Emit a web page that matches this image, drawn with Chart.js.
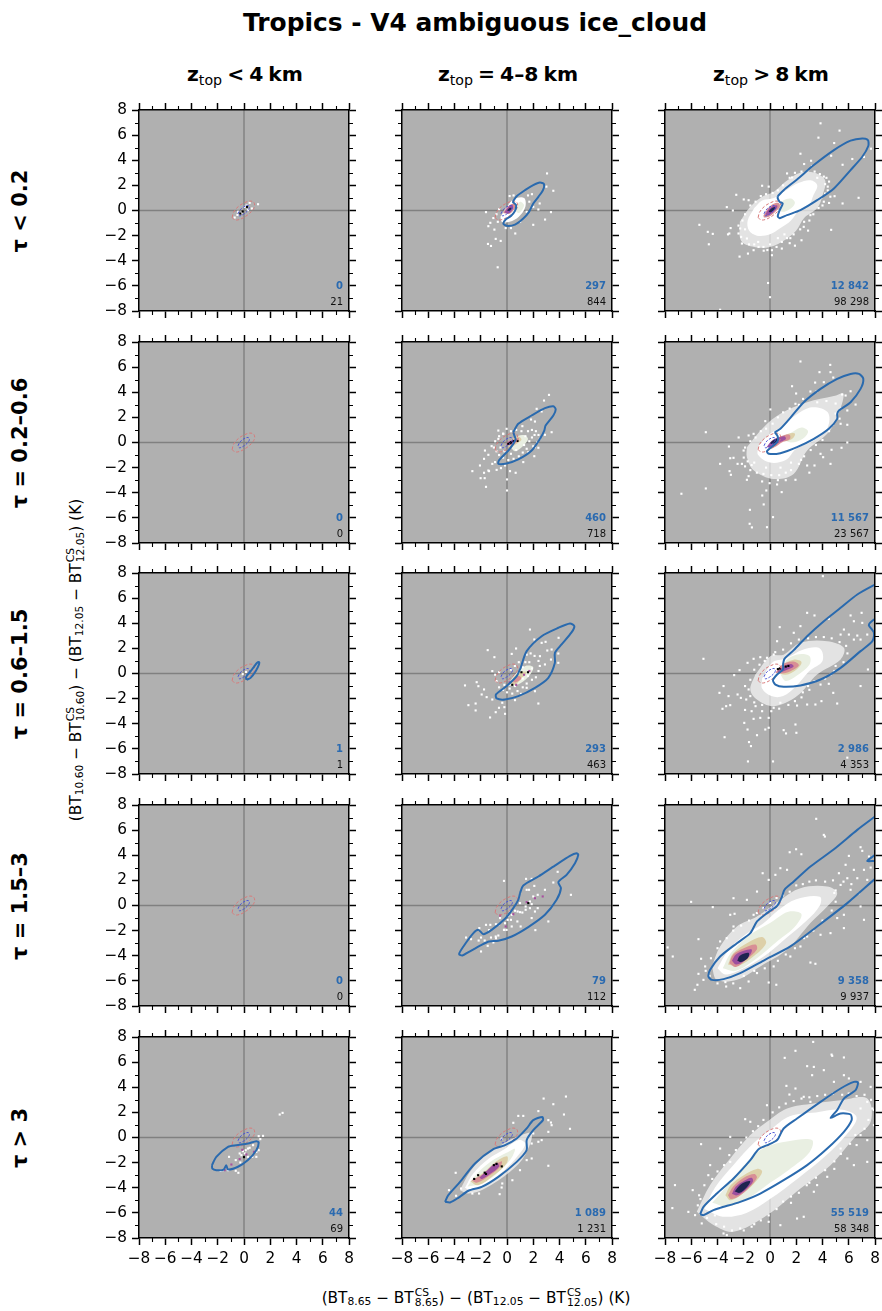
<!DOCTYPE html>
<html>
<head>
<meta charset="utf-8">
<script src="https://cdn.jsdelivr.net/npm/chart.js@4"></script>
<style>
	body { margin: 0; background: #fff; font-family: "DejaVu Sans", sans-serif; color: #000; }
	#fig { position: relative; width: 882px; height: 1311px; overflow: hidden; }
	canvas { position: absolute; }
	.lbl { position: absolute; white-space: nowrap; line-height: 1; }
	.mid { transform: translate(-50%, -50%); }
	.rot { transform: translate(-50%, -50%) rotate(-90deg); }
	.n { font-size: 10px; transform: translateX(-100%); }
	sub.t { font-size: 70%; font-weight: normal; vertical-align: -0.28em; line-height: 0; }
	.ss { display: inline-flex; flex-direction: column; vertical-align: middle; font-size: 70%; line-height: 0.98; text-align: left; margin-left: 1px; }
	.s7 { font-size: 70%; vertical-align: -0.28em; line-height: 0; }
</style>
</head>
<body>
<div id="fig"></div>
<script>
const figTitle = "Tropics - V4 ambiguous ice_cloud";
const colTitles = ["z<sub class='t'>top</sub> &lt; 4 km", "z<sub class='t'>top</sub> = 4–8 km", "z<sub class='t'>top</sub> &gt; 8 km"];
const rowTitles = ["τ < 0.2", "τ = 0.2–0.6", "τ = 0.6–1.5", "τ = 1.5–3", "τ > 3"];
const shownCounts = [["0", "297", "12 842"], ["0", "460", "11 567"], ["1", "293", "2 986"], ["0", "79", "9 358"], ["44", "1 089", "55 519"]];
const totalCounts = [["21", "844", "98 298"], ["0", "718", "23 567"], ["1", "463", "4 353"], ["0", "112", "9 937"], ["69", "1 231", "58 348"]];

const majorTicks = [-8, -6, -4, -2, 0, 2, 4, 6, 8];
const minorTicks = [-7, -5, -3, -1, 1, 3, 5, 7];
const zeroLineH = [[-8, 0], [8, 0]];
const zeroLineV = [[0, -8], [0, 8]];

// clear sky reference contours, same in every panel
const refOuter = [[-.9, -.55], [-.8, -.15], [-.45, .3], [0, .6], [.45, .75], [.75, .65], [.8, .3], [.55, -.1], [.15, -.45], [-.3, -.7], [-.7, -.75]];
const refInner = [[-.45, -.25], [-.3, .05], [0, .3], [.3, .4], [.42, .25], [.25, -.05], [-.05, -.3], [-.35, -.42]];

// blue contours
const blueR1C2 = [[.43, .69], [.74, 1.14], [1.37, 1.62], [2, 2.02], [2.51, 2.23], [2.82, 2.1], [2.74, 1.62], [2.39, 1.09], [2, .56], [1.68, -.11], [1.24, -.64], [.61, -1.12], [-.03, -1.22], [-.28, -1.04], [-.1, -.72], [.3, -.43], [.61, -.03], [.69, .43]];
const blueR1C3 = [[.59, 1.14], [1.04, 1.62], [2.06, 2.47], [3.34, 3.62], [4.87, 4.81], [6.14, 5.56], [7.03, 5.74], [7.46, 5.61], [7.49, 5.13], [7.03, 4.28], [6.14, 3.22], [4.87, 1.76], [3.59, .82], [2.32, .03], [1.3, -.37], [.74, -.61], [.59, -.45], [.74, .03], [.97, .56], [.74, .69], [.59, .96]];
const blueR2C2 = [[.48, .82], [.86, 1.49], [1.88, 2.15], [2.89, 2.73], [3.53, 2.89], [3.71, 2.63], [3.53, 2.15], [2.94, 1.35], [2.84, .95], [2.51, .29], [1.88, -.64], [.86, -1.35], [-.03, -1.67], [-.66, -1.7], [-.61, -1.43], [.1, -.64], [.48, -.11], [.66, .24], [.56, .56]];
const blueR2C3 = [[.36, .82], [.79, 1.09], [1.55, 1.96], [2.57, 3.21], [3.85, 4.27], [5.12, 5.07], [6.14, 5.46], [6.78, 5.46], [7.11, 5.07], [6.9, 4.27], [6.14, 3.21], [5.25, 2.55], [5.12, 2.28], [5.12, 1.88], [4.48, 1.09], [3.34, .29], [2.06, -.37], [.79, -.85], [-.1, -.9], [-.23, -.69], [.54, .03], [.59, .48]];
const blueR3C1 = [[.2, -.5], [.5, -.35], [.9, .2], [1.15, .75], [1.15, .9], [1, .85], [.7, .45], [.4, .05], [.15, -.3]];
const blueR3C2 = [[1.04, .45], [1.5, 1.78], [2.64, 2.97], [3.91, 3.64], [4.8, 3.98], [5.13, 3.77], [4.93, 3.29], [4.16, 2.31], [3.65, 1.64], [3.65, .85], [3.15, -.34], [2.13, -1.14], [.86, -1.8], [-.15, -2.07], [-.79, -1.99], [-.84, -1.67], [-.03, -1], [.74, -.21]];
const blueR3C3 = [[.99, .72], [1.1, 1.17], [1.81, 1.86], [2.83, 2.97], [4.1, 4.16], [5.38, 5.23], [6.65, 6.29], [8, 7.08], [9, 7.6], [9.2, 5], [8, 4.35], [7.62, 4.03], [7.54, 3.82], [7.92, 3.24], [7.8, 2.57], [6.9, 1.78], [5.38, .45], [3.85, -.48], [2.32, -.95], [1.04, -1.06], [.41, -.88], [.23, -.53], [.54, -.08], [.99, .32]];
const blueR4C2 = [[.99, .98], [1.24, 1.59], [2.39, 2.31], [3.65, 3.18], [4.8, 3.95], [5.3, 4.16], [5.43, 4.03], [5.18, 3.37], [4.54, 2.44], [3.91, 1.86], [4.11, 1.38], [3.78, .45], [2.89, -.74], [1.62, -1.72], [.36, -2.47], [-.66, -2.81], [-1.37, -2.86], [-1.93, -3.13], [-2.94, -3.71], [-3.4, -3.98], [-3.65, -3.87], [-3.32, -3.26], [-2.56, -2.2], [-2.18, -1.94], [-1.8, -2.28], [-1.17, -1.94], [-.15, -1.06], [.48, -.21], [.86, .45]];
const blueR4C3 = [[8, 7.08], [6.65, 6.02], [4.87, 4.48], [3.08, 3.1], [1.81, 1.91], [1.1, 1.25], [.92, .72], [.54, -.03], [-.23, -.61], [-.99, -1.27], [-1.5, -2.2], [-2.52, -3], [-3.8, -4.06], [-4.56, -5.12], [-4.69, -5.65], [-4.43, -5.92], [-3.54, -5.86], [-2.27, -5.38], [-.48, -4.38], [1.55, -3.26], [3.59, -1.67], [5.89, .19], [8, 2.12], [9, 3], [9, 3.5], [8, 3.55], [7.41, 3.55], [8, 4.03], [9, 5], [9, 7.7]];
const blueR5C1 = [[-2.44, -2.2], [-2.11, -1.54], [-1.22, -.74], [-.58, -.61], [.3, -.48], [.94, -.29], [1.12, -.4], [.94, -1.01], [.3, -1.8], [-.46, -2.33], [-1.22, -2.55], [-1.35, -2.2], [-1.55, -2.55], [-2.11, -2.6], [-2.41, -2.47]];
const blueR5C2 = [[-4.72, -5.12], [-4.47, -4.59], [-3.58, -3.53], [-2.44, -2.07], [-1.04, -.93], [-.15, -.61], [.74, -.08], [1.5, .72], [2, 1.38], [2.69, 1.64], [2.74, 1.38], [2, .58], [1.5, -.21], [1.5, -1.01], [.74, -1.94], [-.66, -3.13], [-1.93, -3.93], [-2.94, -4.24], [-3.71, -4.8], [-4.34, -5.17]];
const blueR5C3 = [[-5.32, -6.1], [-5.07, -5.52], [-4.05, -4.46], [-2.78, -3.26], [-1.5, -1.8], [-.87, -.93], [-.1, -.56], [.54, -.21], [1.04, .72], [2.06, 1.51], [3.85, 2.84], [5.38, 3.9], [6.39, 4.43], [6.7, 4.38], [6.52, 3.77], [5.63, 3.1], [5.12, 2.18], [4.61, 1.56], [5.38, 1.91], [6.14, 1.83], [6.22, 1.38], [5.63, .45], [4.36, -.88], [2.83, -2.2], [1.04, -3.4], [-.74, -4.46], [-2.27, -5.12], [-3.8, -5.6], [-4.31, -5.78], [-5.07, -6.18]];

// density levels: fringe, white, green, tan, pink, purple, dark
const densR1C2 = [
	null,
	[[-.5, -.5], [0, .3], [.5, .9], [1.3, 1], [1.4, .3], [.9, -.5], [.2, -.9], [-.4, -.9]],
	[[.5, .2], [1, .7], [1.3, .4], [.9, -.2]],
	null,
	[[-.3, -.2], [.1, .35], [.55, .55], [.6, .2], [.2, -.25]],
	[[-.2, -.15], [.05, .2], [.4, .45], [.45, .15], [.15, -.2]],
	[[0, 0], [.2, .2], [.35, .2], [.2, -.02]],
];
const densR1C3 = [
	[[-2.3, -.9], [-1.5, .3], [-.6, 1.1], [.3, 1.5], [1.2, 2.3], [2.3, 3], [3.4, 3], [4.2, 2.4], [4, 1.2], [3.6, .2], [2.6, -.6], [2, -1.6], [1.2, -2.3], [0, -2.9], [-1.2, -2.9], [-2.2, -2.4]],
	[[-1.2, .2], [-.6, .8], [.3, 1], [1.2, 1.6], [2.2, 2.2], [3.1, 2.4], [3.6, 2], [3.3, 1.2], [3, .5], [2.2, 0], [1.6, -.8], [.8, -1.4], [0, -1.9], [-1, -2], [-1.6, -1.6], [-1.7, -.8]],
	[[.5, .3], [1, .8], [1.6, .95], [1.9, .6], [1.5, .1], [.9, -.1]],
	null,
	[[-.5, -.4], [-.2, .1], [.2, .5], [.65, .6], [.75, .3], [.35, -.15], [-.1, -.5], [-.45, -.55]],
	[[-.35, -.3], [-.1, .1], [.25, .38], [.55, .4], [.5, .15], [.15, -.2], [-.2, -.4]],
	[[-.1, -.08], [.1, .15], [.35, .28], [.42, .15], [.2, -.05], [0, -.15]],
];
const densR2C2 = [
	null,
	null,
	[[.3, -.4], [.5, .3], [1.2, .6], [1.6, .3], [1.2, -.3], [.6, -.7]],
	[[.1, -.3], [.3, .2], [.9, .45], [1.1, .2], [.6, -.2], [.2, -.5]],
	[[-.1, -.2], [.1, .1], [.4, .2], [.9, .35], [.8, .05], [.3, -.2]],
	[[-.05, -.15], [.2, .1], [.7, .2], [.5, 0], [.1, -.2]],
	null,
];
const densR2C3 = [
	[[-1.76, -.37], [-.48, 1.22], [.79, 2.28], [2.83, 3.2], [4.87, 3.7], [5.6, 3.87], [5.1, 2], [4.36, .69], [2.83, -.64], [1.8, -2.5], [.28, -2.9], [-1.25, -2.2], [-1.76, -1.17]],
	[[-.9, -.3], [0, .7], [.8, 1.2], [2, 2.2], [3.2, 2.8], [4.4, 2.4], [4.4, 1.2], [3.4, .2], [2, -.5], [1.2, -1.4], [0, -1.6], [-.9, -1]],
	[[.9, .3], [1.8, .9], [2.4, 1.2], [2.9, .9], [2.5, .3], [1.6, 0]],
	[[.8, .35], [1.4, .7], [1.9, .7], [1.7, .3], [1.1, .1]],
	[[-.1, -.3], [.4, .25], [1, .55], [1.5, .6], [1.5, .25], [.9, 0], [.3, -.4]],
	[[-.25, -.35], [.1, .1], [.5, .35], [1.1, .5], [1.2, .25], [.6, -.05], [.1, -.4]],
	[[0, -.05], [.25, .18], [.6, .32], [.55, .1], [.2, -.12]],
];
const densR3C2 = [
	null,
	null,
	[[0, -1], [.6, -.1], [1.4, .6], [2, .5], [1.6, -.3], [.8, -.9]],
	[[.3, -.8], [.5, -.3], [1, .1], [1.5, .1], [1, -.5], [.6, -.9]],
	[[.45, -.7], [.6, -.35], [.9, -.2], [1.1, -.4], [.7, -.7]],
	null,
	null,
];
const densR3C3 = [
	[[-1.12, -.08], [.03, 1.38], [1.04, 1.5], [2.32, 2.44], [4.36, 2.57], [5.63, 2.04], [5.38, 1.12], [3.59, -.08], [2.06, -1.8], [.28, -2.6], [-1, -2.07], [-1.5, -1.27]],
	[[-.6, -.4], [.2, .9], [1.2, 1.2], [2.5, 1.9], [3.8, 2], [4, 1], [3, .2], [2, -1], [1, -1.8], [.1, -1.8], [-.6, -1.2]],
	[[.8, -.1], [1.2, 1], [2, 1.5], [3, 1.4], [3, .7], [2, -.2], [1.2, -.6]],
	[[.5, .1], [1, .7], [1.8, 1.1], [2.4, .9], [2, .3], [1.2, -.1]],
	[[.4, .05], [1, .75], [1.8, .95], [2.2, .65], [1.6, .2], [.9, 0]],
	[[.55, .15], [1.1, .6], [1.6, .75], [1.8, .55], [1.3, .3], [.8, .1]],
	null,
];
const densR4C3 = [
	[[-4.43, -4.85], [-3.8, -3.26], [-2.52, -1.67], [-.99, -.88], [.79, .45], [2.32, 1.38], [4.36, 1.51], [5.12, .98], [4.36, -.08], [3.08, -1.4], [1.29, -3.53], [-.74, -4.85], [-2.52, -5.92], [-4.05, -5.92]],
	[[-4, -5], [-3.2, -3.6], [-2, -2.4], [-.6, -1.5], [.6, -.4], [2, .5], [3.8, .7], [3.8, 0], [2.8, -1.2], [1, -2.8], [-.4, -4], [-2, -5], [-3.4, -5.5]],
	[[-3.6, -5], [-3, -3.8], [-1.6, -2.4], [0, -1.4], [1.4, -.5], [2.4, -.7], [1.8, -1.8], [.6, -2.8], [-1, -4.2], [-2.6, -5.2]],
	[[-3.2, -4.7], [-2.8, -3.8], [-1.6, -2.9], [-.6, -2.5], [-.3, -3], [-1.2, -4], [-2.4, -4.8]],
	[[-3.1, -4.6], [-2.8, -3.9], [-2, -3.4], [-1.1, -3.1], [-1, -3.5], [-1.8, -4.3], [-2.6, -4.9]],
	[[-2.9, -4.4], [-2.6, -3.9], [-2, -3.6], [-1.4, -3.5], [-1.5, -3.9], [-2.1, -4.5], [-2.6, -4.7]],
	[[-2.5, -4.4], [-2.3, -4], [-1.9, -3.8], [-1.6, -3.8], [-1.7, -4.2], [-2.2, -4.5]],
];
const densR5C2 = [
	[[-3.58, -4.19], [-2.82, -2.73], [-1.68, -1.41], [-.66, -.74], [.74, .05], [1.88, .32], [1.37, -1.41], [.23, -2.73], [-1.68, -4.06], [-2.94, -4.46]],
	[[-3.2, -4], [-2.6, -2.9], [-1.4, -1.7], [-.3, -1], [.9, -.2], [1.4, -.5], [.8, -1.5], [-.2, -2.6], [-1.6, -3.7], [-2.8, -4.2]],
	[[-3, -3.9], [-2.4, -3], [-1.2, -1.9], [0, -1.2], [.6, -.9], [.3, -1.7], [-.8, -2.9], [-2, -3.7]],
	[[-2.8, -3.5], [-1.8, -2.8], [-.8, -1.9], [0, -1.5], [0, -2], [-1, -3], [-2.2, -3.8]],
	[[-2.7, -3.4], [-1.8, -2.9], [-.9, -2.2], [-.4, -1.9], [-.5, -2.3], [-1.3, -3], [-2.3, -3.6]],
	[[-2.1, -3.2], [-1.5, -2.6], [-.8, -2], [-.6, -2.3], [-1.3, -2.9], [-1.9, -3.3]],
	null,
];
const densR5C3 = [
	[[-5.58, -5.92], [-4.56, -3.79], [-3.03, -1.67], [-1.5, .19], [-.23, 1.25], [1.3, 2.31], [3.34, 2.71], [5.38, 2.97], [7.41, 3.1], [7.67, 1.25], [6.39, -.08], [4.61, -2.2], [2.32, -4.05], [-.23, -6.18], [-2.78, -7.5], [-4.31, -6.97]],
	[[-5, -5.7], [-4.2, -4], [-2.8, -2.2], [-1.2, -.4], [0, .6], [1.5, 1.7], [3.5, 2], [5.5, 2.2], [6.6, 1.6], [5.8, .2], [4.2, -1.5], [2.2, -3.2], [0, -4.9], [-1.8, -6], [-3.6, -6.3]],
	[[-4.4, -5.2], [-3, -3.5], [-1.8, -2], [-.4, -.8], [1.4, -.3], [3.2, -.2], [3, -1.2], [1.4, -2.6], [0, -3.6], [-1.6, -4.8], [-3.2, -5.5]],
	[[-3.4, -4.6], [-3, -3.8], [-2, -3], [-1, -2.5], [-.6, -2.7], [-1, -3.4], [-2, -4.4], [-3, -5]],
	[[-3.2, -4.6], [-2.8, -3.9], [-2, -3.2], [-1.2, -2.9], [-1, -3.2], [-1.6, -4], [-2.4, -4.7], [-3, -4.9]],
	[[-2.9, -4.5], [-2.6, -3.9], [-1.9, -3.4], [-1.4, -3.2], [-1.3, -3.5], [-1.9, -4.2], [-2.5, -4.6]],
	[[-2.7, -4.3], [-2.3, -3.8], [-1.8, -3.5], [-1.5, -3.5], [-1.8, -4], [-2.3, -4.4]],
];

// sparse bins
const dotsR1C1 = [[-.71, -.56], [1.07, .5], [.43, .61], [.6, .16], [-.46, -.1], [.05, .29], [-.2, -.19], [.3, .03], [.2, .4], [-.5, -.35]];
const dotsR1C2 = [[3.05, 2.95], [3, 1.9], [3.53, 1.57], [3.35, -.13], [2.9, -.72], [2, -1.14], [.63, -1.83], [-.48, -2.42], [-.86, -2.26], [-1.45, -2.66], [-1.22, -2.82], [-.71, -4.52], [-1.6, -.13], [2.49, .56], [2.39, .08], [2, .29], [-1.42, -1.25], [-1.27, -.98], [-.96, -1.52], [-1.04, -.6], [-.1, -1.4], [.3, -1.4], [.2, 1.15], [.5, 1.2], [-.8, -.3], [-.7, -.9], [-.6, .1], [1.6, 1.2], [1.9, 1.3], [1.7, .7], [1.5, -.1], [1, -.9]];
const dotsR1C3 = [[3.85, 6.94], [5.3, 6.36], [3.69, 5.8], [4.89, 5.37], [7.69, 4.92], [7.16, 4.26], [6.27, 4.1], [4.66, 4.36], [5.53, 3.64], [2.32, 4.52], [2.6, 3.7], [3.13, 3.96], [3.2, 3.54], [6.75, 1.01], [5.53, .56], [4.92, 1.14], [4.66, -1.54], [-3.8, -7.9], [-.15, -5.77], [0, -6.9], [-5.38, -1.14], [-4.74, -1.7], [-4.36, -1.86], [-4.66, -2.69], [-2.57, 1.25], [-3.29, .27], [-2.83, 0], [-2.32, -3.67], [-1.68, -3.43], [-3.2, -1.9], [-3.1, -1.83], [-3, -1.4], [-2, .88], [-1.63, .82], [-.6, 1.97], [-.1, 1.9], [.15, -3.56], [.15, -3.16], [-.48, -3.2], [-.2, -3.15], [.9, -3.03], [1.3, -2.2], [1.55, -2.2], [2.4, -2.37], [2.57, -1.3], [3.08, -.37], [4, .4], [4.2, 1.35], [4.1, 2.7], [3.6, 2.6], [1.3, 2.95], [1.68, 2.63], [-2.27, -1.43], [-2.4, -1.83], [-2.14, -2.63], [-1.76, -2.23], [-1.25, -3.16], [-.87, -2.9], [4.4, 1.9], [3.9, 1], [4.5, .6], [2.9, -1.6], [1.9, -2.8],
	[1.5, 2.6], [1.9, 3], [2.4, 3.1], [2.9, 3.2], [3.4, 3.1], [3.8, 2.9], [4.3, 2.6], [4.5, 2.3], [4.2, 2.1], [4.4, 1.6], [4.6, 1.1], [4.1, .7], [3.7, .2], [3.3, -.3], [3, -.8], [2.6, -.9], [2.3, -1.5], [1.8, -1.9], [1.5, -2.6], [.9, -2.5], [.5, -2.9], [0, -2.7], [-.5, -2.9], [-1.2, -2.7], [-1.6, -2.7], [-2.2, -2.1], [-2.4, -1.2], [-2.1, -.8], [-1.9, -.3], [-1.5, .4], [-1.1, .7], [-.7, 1.15], [-.3, 1.3], [.2, 1.4], [.6, 1.6], [1, 2], [-1.9, -1.5], [-.9, -2.5], [1.1, -1.9], [.6, -2.2]];
const dotsR2C2 = [[3.2, 3.79], [2.82, 3.34], [2.26, 2.68], [3.4, .82], [2.89, .61], [2.39, -.42], [2.13, -.37], [2.08, -1.09], [1.62, -.77], [1.24, -1.56], [.66, -2.41], [.23, -2.28], [0, -2.94], [0, -3.82], [-1.6, -3.53], [-1.7, -2.84], [-2.01, -2.84], [-2.64, -2.28], [-1.75, -2.41], [-2.06, -1.83], [-1.42, -2.23], [-1.37, -2.28], [-.79, -2.18], [-.46, -2.04], [-.15, -1.83], [-1.68, -.64], [-1.75, -1.3], [-1.42, -.98], [-1.17, -.29], [-.66, .95], [-.28, .69], [-.03, 1.09], [-.66, .29], [1.17, 1.3], [1.83, 1.83], [2.13, 1.67], [2.64, 2.47], [-.91, -1.56], [-1.12, -1.7],
	[1.6, .9], [1.9, 1], [2.2, .9], [2.4, .6], [2.5, .3], [2.3, 0], [2, -.3], [1.5, -.5], [1.2, -.8], [.9, -1.1], [.5, -1.3], [.1, -1.4], [-.3, -1.2], [-.6, -1], [-.8, -.7], [-1, -.4], [-.9, .1], [-.6, .5], [-.3, .7], [.3, .9], [.7, 1], [1.1, .9], [1.4, .5], [1.9, .4], [1.7, .1], [1.3, -.2], [.7, -.6], [.3, -.9], [-.2, -.7], [-.5, -.4], [2.1, .6]];
const dotsR2C3 = [[2.32, 6.45], [4.59, 6.18], [3.77, 5.6], [4.61, 5.6], [4.82, 5.17], [3.44, 4.77], [4.1, 4.8], [1.68, 4.48], [1.99, 3.9], [3.08, 4.06], [3.54, 4.06], [1.94, 3.08], [2.52, 3.47], [5.5, 3.82], [5.76, 3.74], [6.14, 4.08], [6.52, 3.02], [5.89, 2.55], [5.38, 1.49], [5.89, 1.41], [5.89, 0], [5.45, -.42], [4.69, -.58], [3.85, -.9], [4.05, -1.17], [4.61, -1.7], [3.39, -1.83], [2.83, -1.83], [2.37, -1.38], [1.94, -2.97], [.89, -3.95], [.54, -3.34], [.23, -5.94], [-.23, -6.74], [-1.38, -6.76], [-1.55, -6.47], [-1.53, -5.36], [-.48, -4.93], [-.59, -4.22], [-.28, -3.82], [-.03, -3.24], [-6.75, -4.08], [-4.89, -3.66], [-4.89, .82], [-3.13, -.32], [-2.39, .4], [-3.8, -1.7], [-3.03, -1.25], [-2.78, -1.22], [-2.47, -1.7], [-2.14, -1.7], [-3.08, -2.28], [-2.98, -2.57], [-1.76, -2.97], [-1.63, -2.68], [-2.01, -.64], [-1.63, .56], [-1.25, .69], [-.36, 1.7], [.03, 2.63], [-1.9, -1.9], [-1.5, -2.2], [-.6, -3.1], [.6, -3], [1.2, -3], [3, -2.4],
	[3.6, 3.2], [4.3, 3.3], [5, 3.1], [5.4, 2.7], [5, 2.3], [5.3, 1.9], [4.8, 1.4], [4.5, .9], [4, .2], [3.5, -.2], [3.1, -.6], [2.6, -1.1], [2.2, -1.7], [1.6, -2.2], [1.2, -2.4], [.7, -2.6], [.1, -2.6], [-.5, -2.5], [-1, -2.4], [-1.4, -1.8], [-1.7, -1.5], [-2, -1.2], [-1.9, -.4], [-1.5, .1], [-1.1, .4], [-.7, .9], [-.3, 1.1], [.2, 1.5], [.6, 2], [1, 2.4], [1.5, 2.7], [2.2, 3], [-1.2, -1.6], [-.3, -2], [.8, -2], [1.6, -1.6]];
const dotsR3C1 = [[.15, .12], [-.1, -.05]];
const dotsR3C2 = [[1.75, 3.5], [2.08, 2.71], [2.94, 2.52], [3.93, 2.84], [3.4, 1.91], [3.07, 1.83], [2.64, 2.44], [2.51, 1.38], [3.91, 1.59], [3.91, .85], [3.35, 1.11], [2.89, .72], [.69, 1.99], [.36, 1.56], [-.96, 1.3], [-1.47, 1.86], [-1.12, .19], [-3.2, -.95], [-2.31, -.69], [-2.18, -1.01], [-1.75, -1.27], [-1.93, -1.67], [-1.55, -1.88], [-1.12, -2.07], [-2.94, -2.52], [-2.39, -2.39], [-2.39, -2.94], [-1.29, -3.5], [-.86, -3.08], [-.61, -2.73], [-.2, -2.68], [-.15, -3.21], [-.36, -2.33], [.61, -2.12], [2.39, -2.39], [2.13, -1.41], [1.5, -1.14], [1.07, -1.62],
	[1.5, 1.5], [1.8, 1.6], [2.1, 1.4], [2.4, 1], [2.5, .6], [2.4, .2], [2.2, -.3], [1.9, -.5], [1.5, -.8], [1.2, -1.1], [.8, -1.4], [.4, -1.6], [0, -1.5], [-.3, -1.3], [-.6, -1.1], [-.8, -.6], [-.9, -.1], [-.6, .1], [1.4, .9], [1.7, .9], [1.9, .4], [1.6, -.2], [1.2, -.4], [.6, -1], [.2, -1.2], [-.2, -.9], [.3, .3], [.6, .6], [.9, .9], [1.2, .5]];
const dotsR3C3 = [[4.03, 7.75], [2.83, 4.83], [3.39, 4.62], [4.48, 4.35], [6.14, 4.62], [6.98, 4.83], [6.39, 4.16], [7.03, 4.03], [5.63, 3.5], [6.01, 3.1], [6.65, 3.02], [7.41, 3.1], [6.39, 2.7], [6.9, 2.7], [5.38, 3.1], [2.32, 3.77], [.74, 3.69], [1.81, 3.24], [.54, 2.57], [-5.07, 1.17], [-2.73, -.13], [-2.32, .27], [-1.71, .85], [-1.25, 1.17], [-.74, 1.3], [-.23, 1.25], [.28, 1.51], [-3.54, -1], [-3.85, -1.54], [-3.16, -1.8], [-2.47, -1.67], [-3.62, -2.81], [-3.34, -2.6], [-3.03, -2.52], [-2.22, -1.94], [-1.81, -2.07], [-1.63, -1.27], [-1.96, -3.93], [-1.71, -4.46], [-3.46, -5.07], [-1.6, -5.46], [-1.45, -5.78], [-1.68, -7], [.23, -7], [-.99, -4.91], [-.36, -4.46], [-.1, -4.32], [-.74, -3.53], [-1.25, -3.61], [-.1, -3.53], [1.04, -4.51], [2.01, -4.72], [1.22, -4.77], [1.94, -4.06], [.28, -2.73], [.79, -2.33], [2.06, -2.55], [2.83, -2.47], [3.46, -2.47], [3.92, -2.2], [5.12, -2.39], [4.82, -1.54], [3.85, -.88], [4.48, -.82], [6.9, -1], [7.46, .32], [5.89, -6.7], [-1.9, -2.9], [-1.4, -3], [-1.1, -2.6], [-.6, -3], [2.4, -1.9], [3, -1.3], [4.6, -.1], [5, .6],
	[2.9, 2.8], [3.5, 2.9], [4.1, 2.9], [4.7, 2.8], [5.3, 2.5], [5.8, 2.2], [5.9, 1.6], [5.6, .9], [4.9, .2], [4.2, -.4], [3.4, -.6], [2.9, -1], [2.5, -1.5], [1.9, -2.2], [1.4, -2.5], [.7, -2.8], [.1, -3], [-.6, -2.5], [-1.2, -2.3], [-1.5, -1.8], [-1.9, -1], [-1.5, -.5], [-1.2, .3], [-.8, .7], [-.4, 1], [.4, 1.7], [1, 1.9], [1.6, 2.4], [2.2, 2.7]];
const dotsR4C2 = [[-.23, 1.96], [1.45, 2.12], [1.88, 2.12], [3.86, 2.68], [3.53, 1.83], [4.87, .85], [2.89, 1.25], [2.08, 1.56], [1.5, 1.25], [1.68, 1.25], [2.34, .85], [2, .72], [1.75, .32], [1.88, .11], [1.42, -.08], [1.42, -.34], [1.75, -.21], [2.13, -.48], [2.34, -.21], [3.15, -1.27], [1.88, -1], [2.16, -1.96], [1.04, -1.67], [.79, -1.27], [.36, -1.67], [-.03, -1.94], [-.23, -1.94], [-.84, -1.49], [-1.27, -1.54], [-1.6, -1.54], [-2.11, -1.8], [-1.37, -1.96], [-3.12, -2.55], [-2.74, -2.68], [-1.98, -2.55], [-2.16, -2.79], [-1.7, -2.79], [-1.22, -2.55], [-.86, -2.47], [-.66, -2.39], [-.84, -2.6], [-1.47, -3.21], [-1.98, -3.66], [-1.04, -2.94], [-.53, -1], [-.66, -1.54], [-.15, -1.41], [.05, -1.14], [.3, -1.14], [.1, -.8], [.36, -.74], [.23, -.48], [.61, -.42], [.81, -.48], [.99, -.53], [1.17, -.56], [.99, .19], [-.2, -1.94]];
const dotsR4C3 = [[3.52, 6.9], [4.1, 5.62], [4.18, 5.49], [1.99, 4.48], [2.39, 4.08], [1.5, 4.24], [6.01, 3.95], [6.9, 4.64], [7.03, 4.35], [7.54, 3.9], [7.67, 3.02], [5.76, 3.24], [6.39, 2.84], [7.16, 2.84], [6.65, 2.17], [7.41, 2.04], [5.25, 2.57], [5.89, 2.17], [5.38, 1.64], [6.14, 1.25], [6.78, .98], [6.9, -.08], [7.16, -1.14], [5.63, -.74], [5.12, -1], [4.61, -2.2], [5.63, -1.8], [3.85, -2.33], [3.08, -4.54], [3.46, -4.64], [1.3, 2.84], [.79, 2.97], [.41, 2.44], [-.56, 2.57], [-.1, 2.04], [-.99, 1.11], [-2.78, .58], [-1.76, .45], [-6.01, .29], [-4.36, -.13], [-3.03, -.74], [-2.7, -.66], [-1.25, -.74], [-5.45, -2.68], [-7.8, -3.34], [-7.41, -4.06], [-5.25, -4.24], [-4.94, -4.85], [-5.45, -5.44], [-5.53, -6.31], [-5.73, -6.71], [-5.07, -5.92], [-3.8, -2.86], [-2.78, -1.67], [-3.34, -6.45], [-2.27, -6.58], [-1.63, -6.05], [.48, -6.31], [-.1, -6.13], [-.99, -5.38], [.28, -4.85], [1.55, -4.06], [2.83, -2.47], [2.32, -3.26], [5, 1.2], [5.6, 1.9], [4.8, 2], [6.2, 1.7],
	[4.2, 1.9], [3.5, 2], [3, 1.9], [2.5, 1.7], [2, 1.6], [1.5, 1.1], [1, .8], [.5, .6], [0, .2], [-.5, -.2], [-1, -.6], [-1.6, -1.2], [-2.2, -1.6], [-2.8, -2], [-3.3, -2.6], [-4, -3.4], [-4.5, -4.2], [-4.9, -5.2], [-4.6, -5.6], [-4, -6.2], [-3.4, -6.1], [-2.8, -6.2], [-2, -5.6], [-1.2, -5.2], [-.4, -5], [.6, -4.4], [1.2, -3.9], [1.9, -3.4], [2.6, -2.6], [3.3, -2], [4, -1.2], [4.7, -.4], [5, .3], [4.9, 1]];
const dotsR5C1 = [[2.72, 1.83], [2.94, 1.96], [1.12, .11], [1.45, .13], [1.24, -.13], [1.12, -1.01], [.94, -1.14], [.69, -.61], [.43, -.82], [.3, -.88], [.13, -1.01], [-.08, -1.09], [-.33, -1.27], [-.2, -1.41], [.05, -1.27], [.3, -1.54], [.63, -1.54], [.94, -1.54], [-1.14, -1.54], [-.63, -1.8], [-.28, -1.99], [-.63, -2.65], [-.43, -2.81], [-1.78, -2.65], [-1.6, -2.6], [-1.22, -2.6]];
const dotsR5C2 = [[4.49, 3.26], [2.79, 3.1], [3.53, 2.65], [4.34, 1.83], [4.8, .69], [2.39, 2.1], [3.15, 1.38], [3.35, 1.19], [3.4, .98], [3.15, .45], [2.64, -.21], [1.88, -.48], [3.15, -2.25], [.86, 1.72], [1.24, 1.72], [.48, 1.17], [-.41, -.08], [1.88, -1.67], [1.5, -1.8], [.99, -2.6], [.41, -3.4], [-.36, -3.66], [-.41, -3.98], [-.56, -4.51], [-2.13, -4.46], [-2.64, -4.46], [-3.88, -4.64], [-3.91, -2.81], [-4.42, -4.19], [-3.5, -4.06], [2, .32], [2.39, -.34]];
const dotsR5C3 = [[3.29, 7.61], [1.94, 6.9], [4.69, 6.6], [4.74, 6.5], [5.63, 6.37], [1.12, 6.34], [2.83, 5.68], [3.34, 5.62], [4.1, 5.36], [3.21, 4.96], [1.25, 4.11], [1.94, 3.9], [1.48, 3.42], [2.57, 3.24], [3.08, 2.84], [4.87, 4.43], [5.63, 4.96], [6.01, 4.7], [6.9, 4.43], [7.67, 4.03], [7.41, 2.84], [7.8, 2.31], [6.9, 2.31], [7.92, .98], [6.9, .19], [7.41, -.21], [5.38, -.88], [5.89, -1.67], [6.39, -2.2], [7.41, -1.94], [4.36, -3.13], [3.59, -3.79], [3.34, -4.32], [2.57, -6.31], [2.06, -6.45], [.79, -6.98], [-.1, -6.71], [-2.27, -7.24], [-3.54, -7.64], [-3.29, -7.77], [-5.2, -6.84], [-5.71, -6.18], [-6.22, -5.92], [-7.44, -5.62], [-7.24, -3.79], [-5.89, -4.19], [-5.25, -.53], [-4.56, -2.2], [-3.8, -.88], [-3.03, .05], [-1.89, 1.46], [-1.5, 1.25], [-.23, 2.57], [-3.03, -1.94], [-4.7, -3], [-5.3, -4.9], [-4.2, -6.2], [-1.2, -6.9], [1.6, -5.2], [3, -3.6], [4.9, -2.5], [6.6, -.6],
	[.2, 2], [.7, 2.4], [1.2, 2.7], [1.8, 2.9], [2.4, 3.1], [3, 3.2], [3.6, 3.3], [4.2, 3.4], [4.8, 3.5], [5.5, 3.4], [6, 3.5], [6.6, 3.3], [7.2, 3.4], [7.7, 3], [7.9, 2.2], [7.5, 1.4], [7.2, .7], [6.5, .2], [6.1, -.5], [5.4, -1.3], [4.9, -1.9], [4.2, -2.6], [3.5, -3.2], [2.8, -3.8], [2.2, -4.4], [1.6, -4.7], [1, -5.1], [.5, -5.7], [-.1, -6.2], [-.7, -6.6], [-1.4, -7.1], [-2, -7.4], [-2.9, -7.4], [-3.5, -7.1], [-4.1, -6.9], [-4.8, -6.4], [-5.5, -5.4], [-5.4, -4.6], [-5, -3.8], [-4.4, -3.3], [-4, -2.7], [-3.5, -2.2], [-3.1, -1.4], [-2.6, -1], [-2.2, -.4], [-1.8, 0], [-1.3, .5], [-.9, .9], [-.5, 1.4]];

const pinkR3C2 = [[.2, -.7], [1.3, -.1], [.7, -.9], [1.7, .2]];
const pinkR4C2 = [[.48, -.69], [-.53, -.8], [-.1, -1.67], [1.5, .27], [2.13, .58], [2.72, .72]];
const pinkR5C1 = [[-.13, -.98], [.18, -1.35], [-.33, -1.72], [.76, -1.14], [-.96, -2.15], [-1.47, -2.6]];

const blackR1C1 = [[-.28, -.24], [.23, .29], [-.1, -.08]];
const blackR2C2 = [[.1, -.1], [.3, .02], [.5, .1], [.8, .12], [.25, -.05]];
const blackR3C2 = [[1.1, .1], [1.6, .1], [.4, -.9]];
const blackR3C3 = [[.6, .35], [.75, .4], [1.2, .55], [1.4, .6]];
const blackR4C2 = [[1.62, .19]];
const blackR5C1 = [[0, -1.56]];
const blackR5C2 = [[-2.2, -3], [-1.7, -2.8], [-1.6, -2.9], [-1, -2.2], [-.8, -2.1], [-.4, -2.3], [-2.5, -3.3]];

const blueLines = [[null, blueR1C2, blueR1C3], [null, blueR2C2, blueR2C3], [blueR3C1, blueR3C2, blueR3C3], [null, blueR4C2, blueR4C3], [blueR5C1, blueR5C2, blueR5C3]];
const densities = [[null, densR1C2, densR1C3], [null, densR2C2, densR2C3], [null, densR3C2, densR3C3], [null, null, densR4C3], [null, densR5C2, densR5C3]];
const whiteDots = [[dotsR1C1, dotsR1C2, dotsR1C3], [null, dotsR2C2, dotsR2C3], [dotsR3C1, dotsR3C2, dotsR3C3], [null, dotsR4C2, dotsR4C3], [dotsR5C1, dotsR5C2, dotsR5C3]];
const pinkDots = [[null, null, null], [null, null, null], [null, pinkR3C2, null], [null, pinkR4C2, null], [pinkR5C1, null, null]];
const blackDots = [[blackR1C1, null, null], [null, blackR2C2, null], [null, blackR3C2, blackR3C3], [null, blackR4C2, null], [blackR5C1, blackR5C2, null]];

// layout of the figure, px
const plotLefts = [139, 402, 665];
const plotTops = [110, 342, 573, 805, 1037];
const plotW = 210, plotH = 201;
const marginL = 45, marginR = 10, marginT = 10, marginB = 30;
const densityColors = ["rgba(255,255,255,0.65)", "#ffffff", "#e9efe2", "#ddd0a8", "#d88f95", "#9c4f9f", "#1f2450"];

const fig = document.getElementById("fig");
const toXY = (pts) => pts.map(([x, y]) => ({ x, y }));

const addLabel = (html, x, y, cls, css) => {
	const el = document.createElement("div");
	el.className = "lbl " + cls;
	el.innerHTML = html;
	el.style.left = x + "px";
	el.style.top = y + "px";
	el.style.cssText += css || "";
	fig.appendChild(el);
};

const plotBackground = {
	id: "plotBackground",
	beforeDraw(chart) {
		const { ctx, chartArea: a } = chart;
		ctx.save();
		ctx.fillStyle = "#b0b0b0";
		ctx.fillRect(a.left, a.top, a.right - a.left, a.bottom - a.top);
		ctx.restore();
	},
};

const minorTickMarks = {
	id: "minorTickMarks",
	afterDraw(chart) {
		const { ctx, chartArea: a, scales } = chart;
		ctx.save();
		ctx.strokeStyle = "#000";
		ctx.lineWidth = 1.1;
		ctx.beginPath();
		minorTicks.forEach((v) => {
			const px = Math.round(scales.x.getPixelForValue(v)) + 0.5;
			const py = Math.round(scales.y.getPixelForValue(v)) + 0.5;
			ctx.moveTo(px, a.bottom); ctx.lineTo(px, a.bottom + 4);
			ctx.moveTo(px, a.top); ctx.lineTo(px, a.top - 4);
			ctx.moveTo(a.left, py); ctx.lineTo(a.left - 4, py);
			ctx.moveTo(a.right, py); ctx.lineTo(a.right + 4, py);
		});
		ctx.stroke();
		ctx.restore();
	},
};

const polyDataset = (pts, color) => ({
	data: toXY(pts.concat([pts[0]])),
	showLine: true,
	fill: "shape",
	backgroundColor: color,
	borderWidth: 0,
	pointRadius: 0,
	tension: 0.35,
});
const lineDataset = (pts, color, width, dash, tension) => ({
	data: toXY(pts),
	showLine: true,
	fill: false,
	borderColor: color,
	borderWidth: width,
	borderDash: dash,
	pointRadius: 0,
	tension,
});
const dotDataset = (pts, color) => ({
	data: toXY(pts),
	showLine: false,
	pointStyle: "rect",
	pointRadius: 1.5,
	pointBorderWidth: 0,
	backgroundColor: color,
	pointBackgroundColor: color,
});

const axisOpts = (position, showLabels, fitSize) => ({
	type: "linear",
	position,
	axis: position === "top" || position === "bottom" ? "x" : "y",
	min: -8,
	max: 8,
	display: true,
	afterFit: (s) => {
		if (s.isHorizontal()) s.height = fitSize;
		else s.width = fitSize;
		// keep the plot box the same with or without labels
		s.paddingTop = s.paddingBottom = s.paddingLeft = s.paddingRight = 0;
	},
	afterBuildTicks: (s) => {
		s.ticks = majorTicks.map((value) => ({ value }));
	},
	border: { display: true, color: "#000", width: 1.5, z: 1 },
	grid: { drawOnChartArea: false, drawTicks: true, tickLength: 7, tickColor: "#000", tickWidth: 1.5 },
	ticks: {
		display: showLabels,
		autoSkip: false,
		maxRotation: 0,
		minRotation: 0,
		padding: 5,
		color: "#000",
		font: { family: "DejaVu Sans", size: 15.3 },
		callback: (v) => String(v).replace("-", "\u2212"),
	},
});

const drawPanel = (r, c) => {
	const canvas = document.createElement("canvas");
	canvas.width = marginL + plotW + marginR;
	canvas.height = marginT + plotH + marginB;
	canvas.style.left = plotLefts[c] - marginL + "px";
	canvas.style.top = plotTops[r] - marginT + "px";
	fig.appendChild(canvas);

	// painted back to front, reversed below since chart.js draws the first dataset on top
	const sets = [
		lineDataset(zeroLineH, "#808080", 1.4, [], 0),
		lineDataset(zeroLineV, "#808080", 1.4, [], 0),
	];
	const dens = densities[r][c];
	if (dens) dens.forEach((poly, i) => { if (poly) sets.push(polyDataset(poly, densityColors[i])); });
	if (whiteDots[r][c]) sets.push(dotDataset(whiteDots[r][c], "#ffffff"));
	if (pinkDots[r][c]) sets.push(dotDataset(pinkDots[r][c], "#a8509f"));
	if (blackDots[r][c]) sets.push(dotDataset(blackDots[r][c], "#000000"));
	sets.push(lineDataset(refOuter.concat([refOuter[0]]), "#d97a7a", 1, [3, 2], 0.35));
	sets.push(lineDataset(refInner.concat([refInner[0]]), "#4a55d8", 1, [2.5, 1.5], 0.35));
	if (blueLines[r][c]) {
		const b = blueLines[r][c];
		sets.push(lineDataset(b.concat([b[0]]), "#2a6aae", 2, [], 0.25));
	}

	new Chart(canvas, {
		type: "scatter",
		data: { datasets: sets.reverse() },
		options: {
			responsive: false,
			animation: false,
			devicePixelRatio: 1,
			events: [],
			layout: { padding: 0 },
			plugins: { legend: { display: false }, title: { display: false }, tooltip: { enabled: false } },
			scales: {
				x: axisOpts("bottom", r === 4, marginB),
				y: axisOpts("left", c === 0, marginL),
				x2: axisOpts("top", false, marginT),
				y2: axisOpts("right", false, marginR),
			},
		},
		plugins: [plotBackground, minorTickMarks],
	});

	const right = plotLefts[c] + plotW - 6;
	addLabel(shownCounts[r][c], right, plotTops[r] + plotH - 30, "n", "font-weight:bold;color:#2a6ab0;");
	addLabel(totalCounts[r][c], right, plotTops[r] + plotH - 14, "n", "color:#111;");
};

addLabel(figTitle, 475, 23, "mid", "font-size:24.9px;font-weight:bold;");
colTitles.forEach((t, c) => addLabel(t, plotLefts[c] + plotW / 2 + 1, 74, "mid", "font-size:20.3px;font-weight:bold;word-spacing:-2px;"));
rowTitles.forEach((t, r) => addLabel(t.replace("<", "&lt;").replace(">", "&gt;"), 20, plotTops[r] + plotH / 2, "rot", "font-size:21px;font-weight:bold;"));

const ySym = "(BT<span class='s7'>10.60</span> − BT<span class='ss'><span>CS</span><span>10.60</span></span>) − (BT<span class='s7'>12.05</span> − BT<span class='ss'><span>CS</span><span>12.05</span></span>) (K)";
const xSym = "(BT<span class='s7'>8.65</span> − BT<span class='ss'><span>CS</span><span>8.65</span></span>) − (BT<span class='s7'>12.05</span> − BT<span class='ss'><span>CS</span><span>12.05</span></span>) (K)";
addLabel(ySym, 76, 660, "rot", "font-size:15.3px;");
addLabel(xSym, 476, 1298, "mid", "font-size:15.3px;");

rowTitles.forEach((_, r) => colTitles.forEach((_, c) => drawPanel(r, c)));
</script>
</body>
</html>
